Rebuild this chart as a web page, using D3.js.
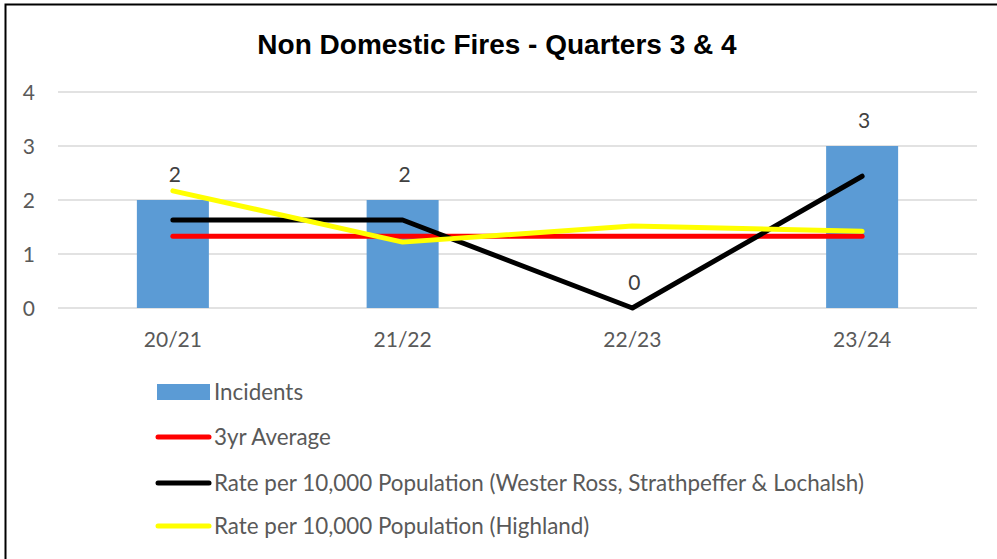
<!DOCTYPE html>
<html><head><meta charset="utf-8">
<script src="https://cdn.jsdelivr.net/npm/d3@7"></script>
<style>body{margin:0;background:#fff;}svg{display:block;}</style>
</head><body>
<script>
const categories = ["20/21","21/22","22/23","23/24"];
const incidents = [2,2,0,3];
const avg3yr = [1.33,1.33,1.33,1.33];
const rateLocal = [1.63,1.63,0,2.44];
const rateHighland = [2.17,1.22,1.52,1.42];
const yTicks = [0,1,2,3,4];
const title = "Non Domestic Fires - Quarters 3 & 4";
const legendLabels = ["Incidents","3yr Average","Rate per 10,000 Population (Wester Ross, Strathpeffer & Lochalsh)","Rate per 10,000 Population (Highland)"];

const W=997,H=559;
const svg=d3.select("body").append("svg").attr("width",W).attr("height",H);
svg.append("rect").attr("x",5.5).attr("y",4.5).attr("width",W+20).attr("height",H+20).attr("fill","#fff").attr("stroke","#000").attr("stroke-width",2);

const font="Lato, 'Open Sans', sans-serif";
svg.append("text").attr("x",497).attr("y",54).attr("text-anchor","middle")
  .attr("font-family","'Liberation Sans', Arial, sans-serif").attr("font-weight","bold").attr("font-size",28).attr("fill","#000").text(title);

const x=d3.scaleBand().domain(categories).range([58,977]);
const y=d3.scaleLinear().domain([0,4]).range([308,92]);

const grid=svg.append("g");
grid.selectAll("line").data(yTicks).join("line")
  .attr("x1",58).attr("x2",977).attr("y1",d=>y(d)).attr("y2",d=>y(d))
  .attr("stroke","#d9d9d9").attr("stroke-width",1.5);

const yAxis=d3.axisLeft(y).tickValues(yTicks).tickSize(0).tickPadding(0).tickFormat(d3.format("d"));
const ya=svg.append("g").attr("transform","translate(35,0)").call(yAxis);
ya.select(".domain").remove();
ya.selectAll("text").attr("font-family",font).attr("font-size",21).attr("fill","#595959").attr("dy","0.35em");

const xAxis=d3.axisBottom(x).tickSize(0).tickPadding(0);
const xa=svg.append("g").attr("transform","translate(0,340)").call(xAxis);
xa.select(".domain").remove();
xa.selectAll("text").attr("font-family",font).attr("font-size",21).attr("fill","#595959").attr("dy","0.35em");

const bw=72;
svg.append("g").selectAll("rect").data(incidents).join("rect")
  .attr("x",(d,i)=>x(categories[i])+x.bandwidth()/2-bw/2).attr("width",bw)
  .attr("y",d=>y(d)).attr("height",d=>y(0)-y(d)).attr("fill","#5B9BD5");

svg.append("g").selectAll("text").data(incidents).join("text")
  .attr("x",(d,i)=>x(categories[i])+x.bandwidth()/2+2).attr("y",d=>y(d)-25)
  .attr("dy","0.35em").attr("text-anchor","middle").attr("font-family",font).attr("font-size",21).attr("fill","#404040").text(d=>d);

const line=d3.line().x((d,i)=>x(categories[i])+x.bandwidth()/2).y(d=>y(d));
const series=[[avg3yr,"#FF0000"],[rateLocal,"#000000"],[rateHighland,"#FFFF00"]];
series.forEach(([vals,c])=>{
  svg.append("path").datum(vals).attr("d",line).attr("fill","none").attr("stroke",c)
    .attr("stroke-width",5).attr("stroke-linecap","round").attr("stroke-linejoin","round");
});

const lg=svg.append("g");
const rows=[392,437,483,526];
const colors=["#5B9BD5","#FF0000","#000000","#FFFF00"];
legendLabels.forEach((t,i)=>{
  if(i===0){
    lg.append("rect").attr("x",157).attr("y",rows[i]-8).attr("width",53).attr("height",16).attr("fill",colors[i]);
  } else {
    lg.append("line").attr("x1",158).attr("x2",209).attr("y1",rows[i]).attr("y2",rows[i])
      .attr("stroke",colors[i]).attr("stroke-width",5).attr("stroke-linecap","round");
  }
  lg.append("text").attr("x",214).attr("y",rows[i]).attr("dy","0.35em").attr("font-family",font)
    .attr("font-size",22.4).attr("fill","#595959").text(t);
});
</script>
</body></html>
